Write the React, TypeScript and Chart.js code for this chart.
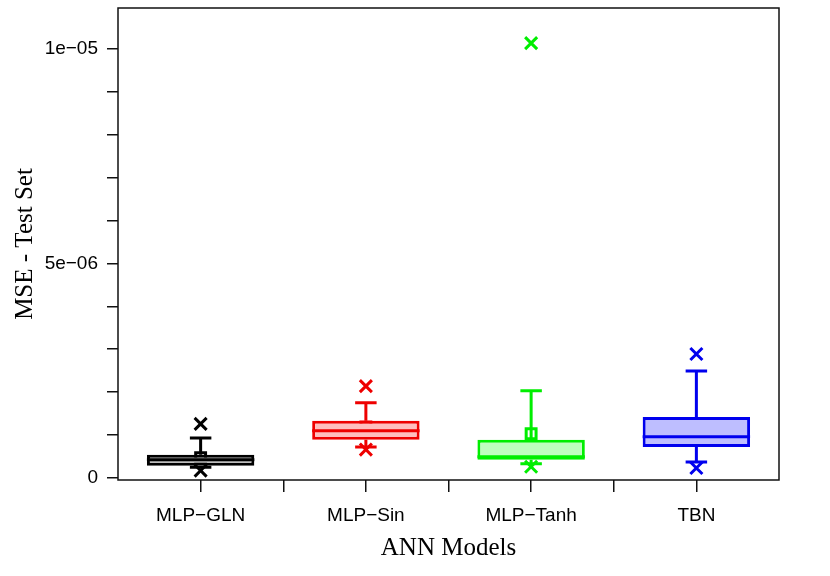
import { useEffect, useRef } from 'react';
import { Chart, registerables } from 'chart.js';

Chart.register(...registerables);

const CATEGORIES = ['MLP−GLN', 'MLP−Sin', 'MLP−Tanh', 'TBN'];
const CATEGORY_X = [1, 2, 3, 4];
const WHISKER_LOW = [2.5e-7, 7.2e-7, 3.3e-7, 3.7e-7];
const Q1 = [2.8e-7, 8.9e-7, 4.2e-7, 7.2e-7];
const MEDIAN = [4.2e-7, 1.1e-6, 4.9e-7, 9.6e-7];
const Q3 = [5.4e-7, 1.33e-6, 8.9e-7, 1.42e-6];
const WHISKER_HIGH = [9.3e-7, 1.75e-6, 2.03e-6, 2.49e-6];
const MEANS = [4.7e-7, 1.19e-6, 1.03e-6, 1.14e-6];
const OUTLIERS_GLN = [1.7e-7, 1.26e-6];
const OUTLIERS_SIN = [6.6e-7, 2.14e-6];
const OUTLIERS_TANH = [2.6e-7, 1.014e-5];
const OUTLIERS_TBN = [2.3e-7, 2.89e-6];
const OUTLIERS = [OUTLIERS_GLN, OUTLIERS_SIN, OUTLIERS_TANH, OUTLIERS_TBN];

const Y_TICKS = [0, 1e-6, 2e-6, 3e-6, 4e-6, 5e-6, 6e-6, 7e-6, 8e-6, 9e-6, 1e-5];
const Y_TICK_LABELS = ['0', '', '', '', '', '5e−06', '', '', '', '', '1e−05'];
const X_TICKS = [1, 1.5, 2, 2.5, 3, 3.5, 4];

const LINE_COLORS = ['#000000', '#ee0000', '#00ee00', '#0000ee'];
const FILL_COLORS = ['#bebebe', '#ffbebe', '#bfffbf', '#bebeff'];

const boxPlugin = {
  id: 'boxExtras',
  afterDatasetDraw(chart: any, args: any) {
    if (args.index !== 0) return;
    const ctx = chart.ctx;
    const xs = chart.scales.x;
    const ys = chart.scales.y;
    const meta = chart.getDatasetMeta(0);
    ctx.save();
    ctx.lineWidth = 3;
    ctx.lineCap = 'butt';
    CATEGORY_X.forEach((cx, i) => {
      const x = xs.getPixelForValue(cx);
      const capL = xs.getPixelForValue(cx - 0.065);
      const capR = xs.getPixelForValue(cx + 0.065);
      const bar = meta.data[i];
      const w = bar.width;
      ctx.strokeStyle = LINE_COLORS[i];
      ctx.beginPath();
      ctx.moveTo(x, ys.getPixelForValue(Q3[i]));
      ctx.lineTo(x, ys.getPixelForValue(WHISKER_HIGH[i]));
      ctx.moveTo(x, ys.getPixelForValue(Q1[i]));
      ctx.lineTo(x, ys.getPixelForValue(WHISKER_LOW[i]));
      ctx.moveTo(capL, ys.getPixelForValue(WHISKER_HIGH[i]));
      ctx.lineTo(capR, ys.getPixelForValue(WHISKER_HIGH[i]));
      ctx.moveTo(capL, ys.getPixelForValue(WHISKER_LOW[i]));
      ctx.lineTo(capR, ys.getPixelForValue(WHISKER_LOW[i]));
      ctx.moveTo(x - w / 2, ys.getPixelForValue(MEDIAN[i]));
      ctx.lineTo(x + w / 2, ys.getPixelForValue(MEDIAN[i]));
      ctx.stroke();
    });
    ctx.restore();
  },
  afterDraw(chart: any) {
    const { ctx, chartArea } = chart;
    ctx.save();
    ctx.strokeStyle = '#111111';
    ctx.lineWidth = 1.5;
    ctx.strokeRect(chartArea.left, chartArea.top, chartArea.right - chartArea.left, chartArea.bottom - chartArea.top);
    ctx.restore();
  },
};

export default function App() {
  const ref = useRef<HTMLCanvasElement>(null);
  useEffect(() => {
    if (!ref.current) return;
    const outlierPoints: any[] = [];
    const outlierColors: string[] = [];
    OUTLIERS.forEach((vals, i) => {
      vals.forEach((v) => {
        outlierPoints.push({ x: CATEGORY_X[i], y: v });
        outlierColors.push(LINE_COLORS[i]);
      });
    });
    const chart = new Chart(ref.current, {
      type: 'bar',
      data: {
        datasets: [
          {
            type: 'bar',
            data: CATEGORY_X.map((cx, i) => ({ x: cx, y: [Q1[i], Q3[i]] })),
            backgroundColor: FILL_COLORS,
            borderColor: LINE_COLORS,
            borderWidth: 3,
            borderSkipped: false,
            categoryPercentage: 1,
            barPercentage: 1.3,
          } as any,
          {
            type: 'scatter',
            data: CATEGORY_X.map((cx, i) => ({ x: cx, y: MEANS[i] })),
            pointStyle: 'rect',
            pointRadius: 7,
            pointBorderWidth: 3,
            pointBackgroundColor: 'rgba(0,0,0,0)',
            pointBorderColor: LINE_COLORS,
          } as any,
          {
            type: 'scatter',
            data: outlierPoints,
            pointStyle: 'crossRot',
            pointRadius: 8.5,
            pointBorderWidth: 3,
            pointBorderColor: outlierColors,
            pointBackgroundColor: outlierColors,
          } as any,
        ],
      },
      options: {
        responsive: false,
        animation: false,
        events: [],
        devicePixelRatio: 1,
        layout: { autoPadding: false, padding: { left: 0, right: 51, top: 8, bottom: 0 } },
        plugins: { legend: { display: false }, tooltip: { enabled: false } },
        scales: {
          x: {
            type: 'linear',
            min: 0.5,
            max: 4.5,
            offset: false,
            afterBuildTicks: (scale: any) => {
              scale.ticks = X_TICKS.map((v) => ({ value: v }));
            },
            afterFit: (scale: any) => {
              scale.height = 96;
              scale.paddingLeft = 0;
              scale.paddingRight = 0;
            },
            border: { display: false },
            grid: { offset: false, drawOnChartArea: false, drawTicks: true, tickLength: 12, color: '#111111', lineWidth: 1.5 },
            ticks: {
              autoSkip: false,
              maxRotation: 0,
              padding: 12,
              color: '#000000',
              font: { family: '"Liberation Sans", Arial, sans-serif', size: 19 },
              callback: (_v: any, index: number) => {
                const t = X_TICKS[index];
                return Number.isInteger(t) ? CATEGORIES[t - 1] : '';
              },
            },
            title: {
              display: true,
              text: 'ANN Models',
              color: '#000000',
              font: { family: '"Liberation Serif", "Times New Roman", serif', size: 25 },
              padding: { top: 0, bottom: 13 },
            },
          },
          y: {
            type: 'linear',
            min: -5e-8,
            max: 1.096e-5,
            afterBuildTicks: (scale: any) => {
              scale.ticks = Y_TICKS.map((v) => ({ value: v }));
            },
            afterFit: (scale: any) => {
              scale.width = 118;
              scale.paddingTop = 0;
              scale.paddingBottom = 0;
            },
            border: { display: false },
            grid: { drawOnChartArea: false, drawTicks: true, tickLength: 11, color: '#111111', lineWidth: 1.5 },
            ticks: {
              autoSkip: false,
              padding: 9,
              color: '#000000',
              font: { family: '"Liberation Sans", Arial, sans-serif', size: 19 },
              callback: (_v: any, index: number) => Y_TICK_LABELS[index],
            },
            title: {
              display: true,
              text: 'MSE - Test Set',
              color: '#000000',
              font: { family: '"Liberation Serif", "Times New Roman", serif', size: 25 },
              padding: { top: 10, bottom: 0 },
            },
          },
        },
      },
      plugins: [boxPlugin],
    } as any);
    return () => chart.destroy();
  }, []);
  return (
    <div style={{ position: 'absolute', left: 0, top: 0, width: 830, height: 576, background: '#ffffff' }}>
      <canvas ref={ref} width={830} height={576} style={{ width: 830, height: 576 }} />
    </div>
  );
}
